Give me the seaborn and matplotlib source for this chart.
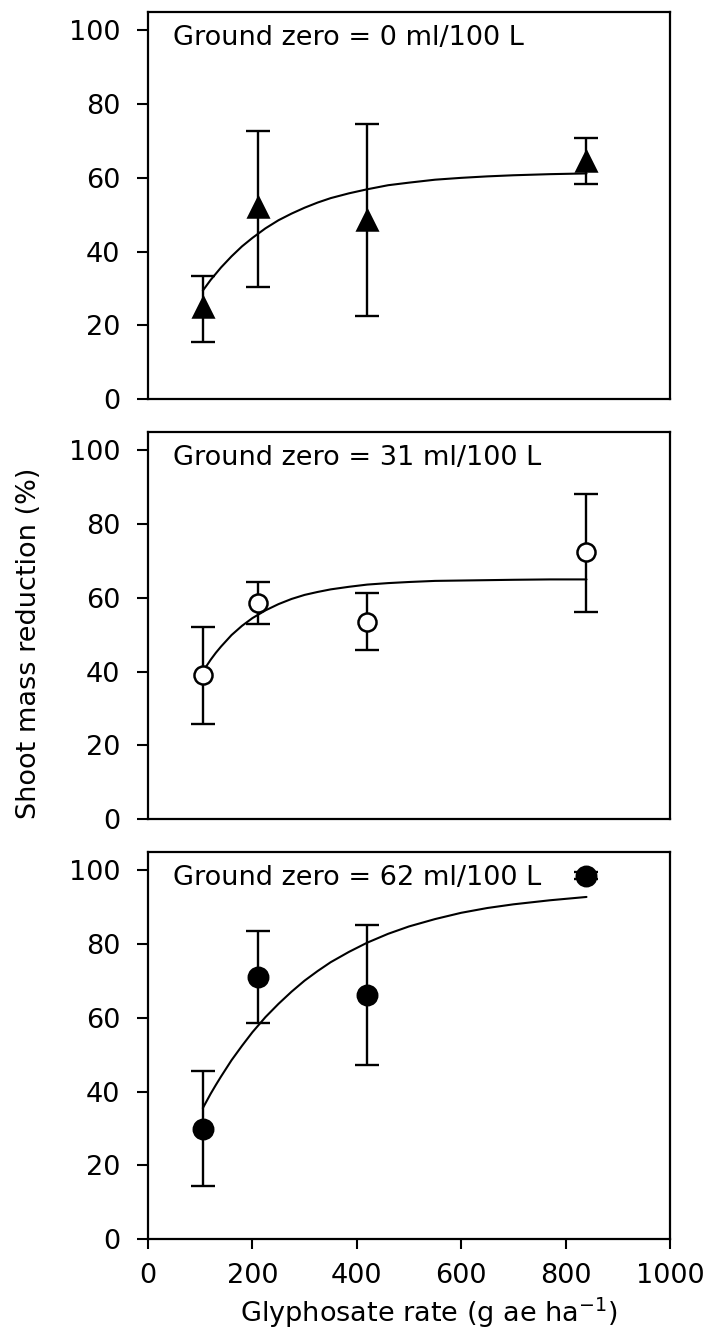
import matplotlib
matplotlib.use("Agg")
import matplotlib.pyplot as plt
import seaborn as sns
import numpy as np
import pandas as pd

# glyphosate rates (g ae/ha)
rates = [105, 210, 420, 840]

# ground zero = 0 ml/100 L  (triangles)
gz0_mean = [25.0, 52.0, 48.5, 64.5]
gz0_lo = [15.5, 30.5, 22.5, 58.3]
gz0_hi = [33.5, 72.7, 74.5, 70.7]

# ground zero = 31 ml/100 L  (open circles)
gz31_mean = [39.0, 58.7, 53.4, 72.4]
gz31_lo = [25.9, 52.9, 45.9, 56.2]
gz31_hi = [52.1, 64.4, 61.2, 88.3]

# ground zero = 62 ml/100 L  (filled circles)
gz62_mean = [29.8, 71.2, 66.1, 98.6]
gz62_lo = [14.3, 58.5, 47.2, 97.6]
gz62_hi = [45.5, 83.6, 85.3, 99.6]

# fitted curves
curve_x = [105, 120, 130, 140, 160, 180, 200, 225, 250, 275, 300, 325, 350,
           385, 420, 460, 500, 550, 600, 650, 700, 770, 840]
gz0_fit = [29.4, 32.3, 34.0, 35.7, 38.7, 41.4, 43.7, 46.3, 48.5, 50.3, 51.9, 53.3, 54.5,
           55.8, 56.9, 58.0, 58.7, 59.5, 60.0, 60.4, 60.7, 61.0, 61.2]
gz31_fit = [40.0, 43.2, 45.1, 46.8, 49.9, 52.4, 54.5, 56.6, 58.3, 59.7, 60.8, 61.6, 62.3,
            63.0, 63.6, 64.0, 64.3, 64.6, 64.7, 64.8, 64.9, 65.0, 65.0]
gz62_fit = [35.5, 39.4, 41.8, 44.1, 48.5, 52.4, 56.1, 60.2, 63.8, 67.1, 70.1, 72.7, 75.1,
            77.9, 80.4, 82.8, 84.8, 86.8, 88.5, 89.8, 90.8, 91.9, 92.8]

labels = ["Ground zero = 0 ml/100 L", "Ground zero = 31 ml/100 L", "Ground zero = 62 ml/100 L"]

sns.set_style("ticks", {"axes.edgecolor": "black", "xtick.color": "black",
                        "ytick.color": "black", "text.color": "black",
                        "axes.labelcolor": "black"})
plt.rcParams["font.family"] = ["DejaVu Sans"]
plt.rcParams["font.size"] = 19.5
plt.rcParams["axes.linewidth"] = 1.5

fig = plt.figure(figsize=(7.09, 13.38), dpi=100)

left, width, height = 148 / 709, 522 / 709, 387 / 1338
bottoms = [0.7018, 0.3879, 0.0740]

panels = [
    (gz0_mean, gz0_lo, gz0_hi, gz0_fit, "^", "black", 15),
    (gz31_mean, gz31_lo, gz31_hi, gz31_fit, "o", "white", 13),
    (gz62_mean, gz62_lo, gz62_hi, gz62_fit, "o", "black", 14),
]

for i, (mean, lo, hi, fit, mk, fc, ms) in enumerate(panels):
    ax = fig.add_axes([left, bottoms[i], width, height])
    pts = pd.DataFrame({"rate": rates, "mean": mean})
    crv = pd.DataFrame({"rate": curve_x, "fit": fit})

    sns.lineplot(data=crv, x="rate", y="fit", ax=ax, color="black", lw=1.5, zorder=2)
    yerr = [np.array(mean) - np.array(lo), np.array(hi) - np.array(mean)]
    ax.errorbar(rates, mean, yerr=yerr, fmt="none", ecolor="black",
                elinewidth=1.7, capsize=8.5, capthick=1.7, zorder=3)
    ax.plot(pts["rate"], pts["mean"], ls="none", marker=mk, ms=ms,
            mfc=fc, mec="black", mew=1.8, zorder=4)

    ax.set_xlim(0, 1000)
    ax.set_ylim(0, 105)
    ax.set_yticks([0, 20, 40, 60, 80, 100])
    ax.set_xticks([0, 200, 400, 600, 800, 1000])
    ax.tick_params(axis="y", direction="out", length=8, width=1.5, pad=12,
                   labelsize=19.5, colors="black")
    ax.tick_params(axis="x", direction="out", length=7.5, width=1.5, pad=10,
                   labelsize=19.5, colors="black")
    ax.tick_params(top=False, right=False)
    if i < 2:
        ax.tick_params(axis="x", bottom=False, labelbottom=False)
    ax.set_xlabel("")
    ax.set_ylabel("")
    for s in ax.spines.values():
        s.set_linewidth(1.6)
        s.set_color("black")
        s.set_visible(True)
    ax.text(48, 96, labels[i], ha="left", va="baseline", fontsize=19.5, color="black")

fig.text(0.041, 0.519, "Shoot mass reduction (%)", rotation=90,
         ha="center", va="center", fontsize=19.5, color="black")
fig.text(0.605, 0.012, "Glyphosate rate (g ae ha$^{-1}$)",
         ha="center", va="baseline", fontsize=19.5, color="black")

fig.savefig("out.png", dpi=100)
